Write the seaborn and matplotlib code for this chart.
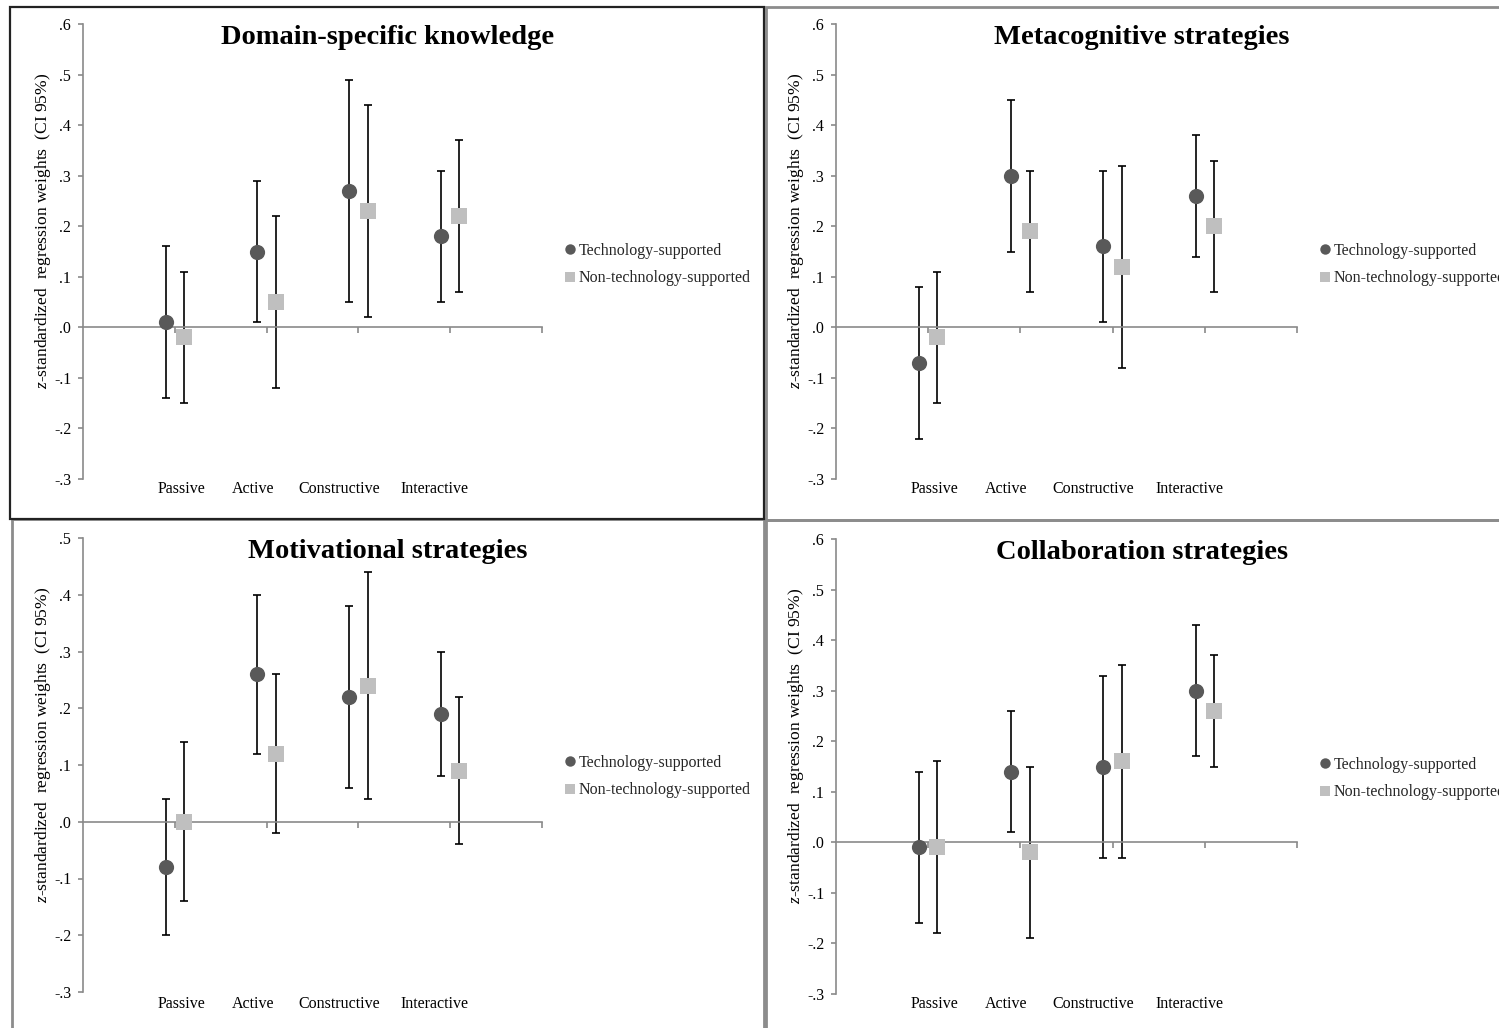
import numpy as np
import pandas as pd
import matplotlib
matplotlib.use("Agg")
import matplotlib.pyplot as plt
import matplotlib.transforms as mtrans
from matplotlib.patches import Rectangle
from matplotlib.lines import Line2D
from matplotlib.ticker import MultipleLocator, FuncFormatter
import seaborn as sns

# ---------------- data ----------------
categories = ["Passive", "Active", "Constructive", "Interactive"]
series_names = ["Technology-supported", "Non-technology-supported"]
panel_titles = ["Domain-specific knowledge", "Metacognitive strategies",
                "Motivational strategies", "Collaboration strategies"]
y_limits = [(-0.3, 0.6), (-0.3, 0.6), (-0.3, 0.5), (-0.3, 0.6)]

# Domain-specific knowledge
dsk_tech = [0.01, 0.15, 0.27, 0.18]
dsk_tech_lo = [-0.14, 0.01, 0.05, 0.05]
dsk_tech_hi = [0.16, 0.29, 0.49, 0.31]
dsk_non = [-0.02, 0.05, 0.23, 0.22]
dsk_non_lo = [-0.15, -0.12, 0.02, 0.07]
dsk_non_hi = [0.11, 0.22, 0.44, 0.37]

# Metacognitive strategies
meta_tech = [-0.07, 0.30, 0.16, 0.26]
meta_tech_lo = [-0.22, 0.15, 0.01, 0.14]
meta_tech_hi = [0.08, 0.45, 0.31, 0.38]
meta_non = [-0.02, 0.19, 0.12, 0.20]
meta_non_lo = [-0.15, 0.07, -0.08, 0.07]
meta_non_hi = [0.11, 0.31, 0.32, 0.33]

# Motivational strategies
mot_tech = [-0.08, 0.26, 0.22, 0.19]
mot_tech_lo = [-0.20, 0.12, 0.06, 0.08]
mot_tech_hi = [0.04, 0.40, 0.38, 0.30]
mot_non = [0.00, 0.12, 0.24, 0.09]
mot_non_lo = [-0.14, -0.02, 0.04, -0.04]
mot_non_hi = [0.14, 0.26, 0.44, 0.22]

# Collaboration strategies
col_tech = [-0.01, 0.14, 0.15, 0.30]
col_tech_lo = [-0.16, 0.02, -0.03, 0.17]
col_tech_hi = [0.14, 0.26, 0.33, 0.43]
col_non = [-0.01, -0.02, 0.16, 0.26]
col_non_lo = [-0.18, -0.19, -0.03, 0.15]
col_non_hi = [0.16, 0.15, 0.35, 0.37]

panels = [
    (dsk_tech, dsk_tech_lo, dsk_tech_hi, dsk_non, dsk_non_lo, dsk_non_hi),
    (meta_tech, meta_tech_lo, meta_tech_hi, meta_non, meta_non_lo, meta_non_hi),
    (mot_tech, mot_tech_lo, mot_tech_hi, mot_non, mot_non_lo, mot_non_hi),
    (col_tech, col_tech_lo, col_tech_hi, col_non, col_non_lo, col_non_hi),
]

rows = []
for p, (te, tl, th, ne, nl, nh) in enumerate(panels):
    for i, c in enumerate(categories):
        rows.append(dict(panel=p, category=c, cat_idx=i, series=series_names[0],
                         est=te[i], lo=tl[i], hi=th[i]))
        rows.append(dict(panel=p, category=c, cat_idx=i, series=series_names[1],
                         est=ne[i], lo=nl[i], hi=nh[i]))
df = pd.DataFrame(rows)

# ---------------- style ----------------
sns.set_theme(style="white")
plt.rcParams["font.family"] = ["Liberation Serif", "DejaVu Serif"]
plt.rcParams["mathtext.fontset"] = "custom"
plt.rcParams["mathtext.rm"] = "Liberation Serif"
plt.rcParams["mathtext.it"] = "Liberation Serif:italic"

DARK = "#595959"
LIGHT = "#bfbfbf"
AXC = "#8a8a8a"
offsets = {series_names[0]: -0.1, series_names[1]: 0.1}
colors = {series_names[0]: DARK, series_names[1]: LIGHT}
markers = {series_names[0]: "o", series_names[1]: "s"}
msizes = {series_names[0]: 120, series_names[1]: 135}

W, H = 1499, 1028
fig = plt.figure(figsize=(W / 100, H / 100), dpi=100)
fig.patch.set_facecolor("white")

# panel frames (pixel boxes: left, top, right, bottom)
frames = [((766, 7, 1515, 520), "#8c8c8c", 2.0),
          ((12, 519, 764, 1040), "#8c8c8c", 2.0),
          ((766, 520, 1515, 1040), "#8c8c8c", 2.0),
          ((10, 7, 764, 519), "#222222", 1.6)]
for (l, t, r, b), col, lw in frames:
    fig.patches.append(Rectangle((l / W, 1 - b / H), (r - l) / W, (b - t) / H,
                                 transform=fig.transFigure, fill=False,
                                 edgecolor=col, linewidth=lw, zorder=0))

axes_px = [(83, 24, 542, 479), (836, 24, 1297, 479),
           (83, 538, 542, 992), (836, 539, 1297, 994)]
label_y_px = [489, 489, 1004, 1004]
legend_px = [(565, 243), (1320, 243), (565, 755), (1320, 757)]
label_x = [1.07, 1.85, 2.79, 3.83]

fmt = FuncFormatter(lambda v, pos: ("%.1f" % v).replace("0.", ".") if abs(v) > 1e-9 else ".0")

for p, (l, t, r, b) in enumerate(axes_px):
    ax = fig.add_axes([l / W, 1 - b / H, (r - l) / W, (b - t) / H])
    ax.set_facecolor("none")
    sub = df[df.panel == p].copy()
    sub["x"] = sub["cat_idx"] + 1 + sub["series"].map(offsets)

    for s in series_names:
        d = sub[sub.series == s]
        ax.errorbar(d["x"], d["est"], yerr=[d["est"] - d["lo"], d["hi"] - d["est"]],
                    fmt="none", ecolor="black", elinewidth=1.2, capsize=2.6,
                    capthick=1.2, zorder=2)
        sns.scatterplot(data=d, x="x", y="est", marker=markers[s], color=colors[s],
                        s=msizes[s], linewidth=0, ax=ax, zorder=3, legend=False)

    ylo, yhi = y_limits[p]
    ax.set_xlim(0, 5)
    ax.set_ylim(ylo, yhi)
    ax.set_xlabel("")
    ax.set_ylabel("")
    ax.grid(False)
    for side in ("top", "right"):
        ax.spines[side].set_visible(False)
    ax.spines["left"].set_color(AXC)
    ax.spines["left"].set_linewidth(1.2)
    ax.spines["bottom"].set_color(AXC)
    ax.spines["bottom"].set_linewidth(1.2)
    ax.spines["bottom"].set_position(("data", 0))
    ax.set_xticks([1, 2, 3, 4, 5])
    ax.set_xticklabels([])
    ax.tick_params(axis="x", bottom=True, direction="out", length=4, width=1.2, color=AXC)
    ax.yaxis.set_major_locator(MultipleLocator(0.1))
    ax.yaxis.set_major_formatter(fmt)
    ax.tick_params(axis="y", left=True, direction="out", length=3.5, width=1.2,
                   color=AXC, labelsize=11.5, pad=5, labelcolor="black")

    # category labels
    tr = mtrans.blended_transform_factory(ax.transData, fig.transFigure)
    for xi, c in zip(label_x, categories):
        ax.text(xi, 1 - label_y_px[p] / H, c, transform=tr, ha="center", va="center",
                fontsize=11.5, color="black")

    # title
    ax.text(3.32, 0.955, panel_titles[p], transform=ax.get_xaxis_transform(),
            ha="center", va="baseline", fontsize=20.5, fontweight="bold", color="black")

    # y label
    ax.text(-0.087, 0.545, r"$z$-standardized  regression weights  (CI 95%)",
            transform=ax.transAxes, rotation=90, ha="center", va="center",
            fontsize=12.6, color="black")

    # legend
    handles = [Line2D([], [], linestyle="none", marker=markers[s], color=colors[s],
                      markersize=7.5, markeredgewidth=0) for s in series_names]
    lx, ly = legend_px[p]
    ax.legend(handles, series_names, loc="upper left",
              bbox_to_anchor=(lx / W, 1 - ly / H), bbox_transform=fig.transFigure,
              frameon=False, fontsize=11.5, handlelength=0.6, handletextpad=0.25,
              labelspacing=0.72, borderpad=0, borderaxespad=0)

fig.savefig("out.png", dpi=100, facecolor="white")
